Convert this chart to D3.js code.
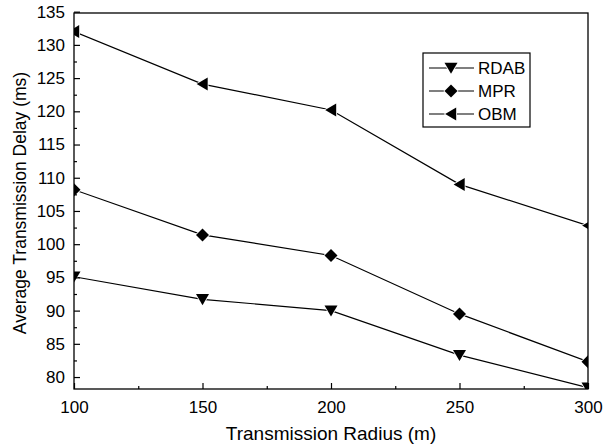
<!DOCTYPE html>
<html>
<head>
<meta charset="utf-8">
<script src="https://cdn.jsdelivr.net/npm/d3@7"></script>
<style>
  body { margin: 0; background: #fff; }
  svg { display: block; }
  text { font-family: "Liberation Sans", Arial, sans-serif; fill: #000; }
</style>
</head>
<body>
<svg id="chart" width="615" height="445"></svg>
<script>
const radius = [100, 150, 200, 250, 300];
const rdab = [95.1, 91.7, 90.0, 83.3, 78.4];
const mpr = [108.2, 101.4, 98.3, 89.5, 82.3];
const obm = [132.0, 124.1, 120.2, 109.0, 102.8];
const seriesNames = ["RDAB", "MPR", "OBM"];
const xTicks = [100, 150, 200, 250, 300];
const yTicks = [80, 85, 90, 95, 100, 105, 110, 115, 120, 125, 130, 135];

const svg = d3.select("#chart");
const L = 74, R = 588, T = 13, B = 389;
const x = d3.scaleLinear().domain([100, 300]).range([L, R]);
const y = d3.scaleLinear().domain([78.2, 134.8]).range([B, T]);

svg.append("defs").append("clipPath").attr("id", "clip")
  .append("rect").attr("x", L).attr("y", T).attr("width", R - L).attr("height", B - T);

const series = [
  { name: seriesNames[0], values: rdab, shape: "down" },
  { name: seriesNames[1], values: mpr, shape: "diamond" },
  { name: seriesNames[2], values: obm, shape: "left" }
];

function markerPath(shape, s) {
  if (shape === "down") return `M${-s},${-s*0.8}L${s},${-s*0.8}L0,${s*0.9}Z`;
  if (shape === "diamond") return `M0,${-s}L${s},0L0,${s}L${-s},0Z`;
  return `M${-s*0.9},0L${s*0.8},${-s}L${s*0.8},${s}Z`;
}

const g = svg.append("g").attr("clip-path", "url(#clip)");
const line = d3.line().x((d, i) => x(radius[i])).y(d => y(d));
series.forEach(s => {
  g.append("path").datum(s.values).attr("d", line)
    .attr("fill", "none").attr("stroke", "#000").attr("stroke-width", 1.2);
  g.selectAll(null).data(s.values).enter().append("path")
    .attr("transform", (d, i) => `translate(${x(radius[i])},${y(d)})`)
    .attr("d", markerPath(s.shape, 6.5))
    .attr("fill", "#000").attr("stroke", "#fff").attr("stroke-width", 1.6)
    .attr("paint-order", "stroke");
});

svg.append("rect").attr("x", L).attr("y", T).attr("width", R - L).attr("height", B - T)
  .attr("fill", "none").attr("stroke", "#000").attr("stroke-width", 1.3);

const xAxis = d3.axisBottom(x).tickValues(xTicks).tickSize(-6).tickPadding(12).tickFormat(d3.format("d"));
const xg = svg.append("g").attr("transform", `translate(0,${B})`).call(xAxis);
xg.select(".domain").remove();
xg.selectAll("text").attr("font-size", 17).attr("font-family", "Liberation Sans, Arial, sans-serif");
const xMinor = d3.axisBottom(x).tickValues([125, 175, 225, 275]).tickSize(-3).tickFormat("");
const xmg = svg.append("g").attr("transform", `translate(0,${B})`).call(xMinor);
xmg.select(".domain").remove();

const yAxis = d3.axisLeft(y).tickValues(yTicks).tickSize(-6).tickPadding(9).tickFormat(d3.format("d"));
const yg = svg.append("g").attr("transform", `translate(${L},0)`).call(yAxis);
yg.select(".domain").remove();
yg.selectAll("text").attr("font-size", 17).attr("font-family", "Liberation Sans, Arial, sans-serif");
const yMinor = d3.axisLeft(y).tickValues(d3.range(82.5, 135, 5)).tickSize(-3).tickFormat("");
const ymg = svg.append("g").attr("transform", `translate(${L},0)`).call(yMinor);
ymg.select(".domain").remove();
svg.selectAll(".tick line").attr("stroke", "#000").attr("stroke-width", 1.2);

svg.append("text").attr("x", 331).attr("y", 440).attr("text-anchor", "middle")
  .attr("font-size", 19).text("Transmission Radius (m)");
svg.append("text").attr("transform", `translate(26,203) rotate(-90)`)
  .attr("text-anchor", "middle").attr("font-size", 17.5).text("Average Transmission Delay (ms)");

const lg = svg.append("g");
lg.append("rect").attr("x", 423).attr("y", 53).attr("width", 107).attr("height", 74)
  .attr("fill", "#fff").attr("stroke", "#000").attr("stroke-width", 1.2);
series.forEach((s, i) => {
  const cy = 68 + i * 23;
  lg.append("line").attr("x1", 429).attr("x2", 474).attr("y1", cy).attr("y2", cy)
    .attr("stroke", "#000").attr("stroke-width", 1.2);
  lg.append("path").attr("transform", `translate(451,${cy})`).attr("d", markerPath(s.shape, 6.5))
    .attr("fill", "#000").attr("stroke", "#fff").attr("stroke-width", 1.6).attr("paint-order", "stroke");
  lg.append("text").attr("x", 478).attr("y", cy + 6).attr("font-size", 17).text(s.name);
});
</script>
</body>
</html>
